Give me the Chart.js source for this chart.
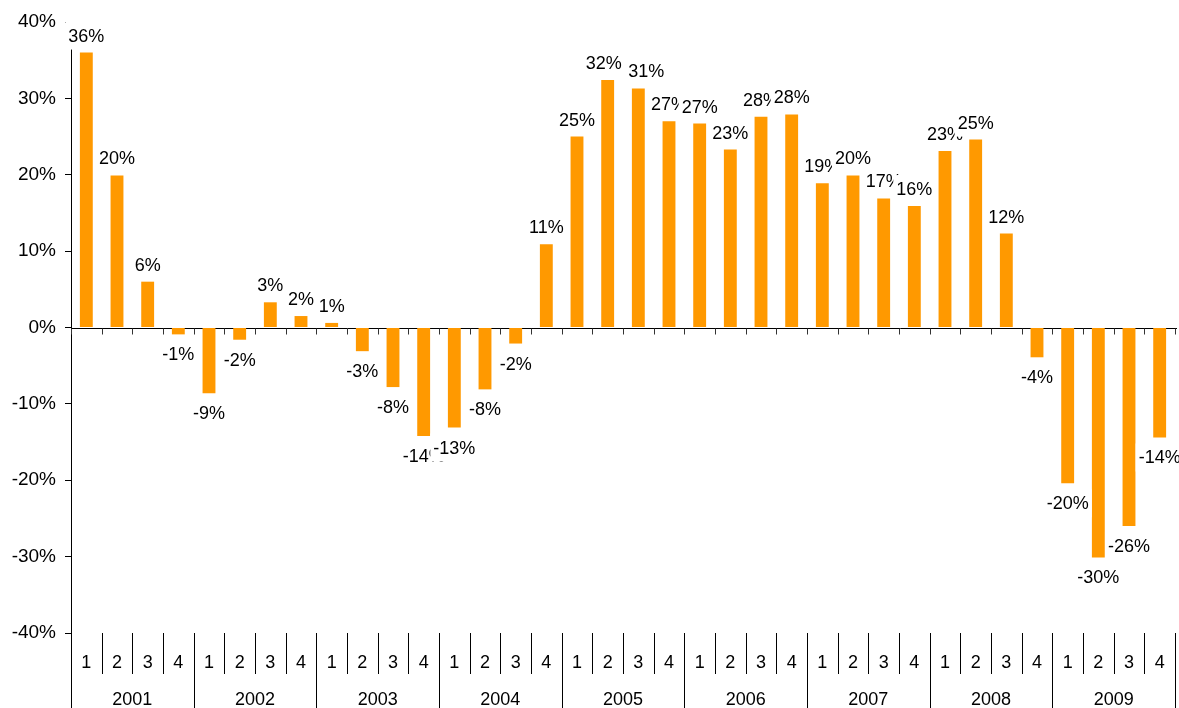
<!DOCTYPE html>
<html>
<head>
<meta charset="utf-8">
<script src="https://cdn.jsdelivr.net/npm/chart.js@4"></script>
<style>
  html, body { margin: 0; padding: 0; background: #fff; }
  #wrap { width: 1179px; height: 708px; position: relative; }
</style>
</head>
<body>
<div id="wrap"><canvas id="myChart"></canvas></div>
<script>
/* quarterly returns, 2001 - 2009 */
const YEARS = ['2001', '2002', '2003', '2004', '2005', '2006', '2007', '2008', '2009'];
const QUARTERS = ['1', '2', '3', '4'];
const RETURNS = [
    36.0, 19.9, 6.0, -0.9,      // 2001
    -8.6, -1.6, 3.3, 1.5,       // 2002
    0.6, -3.1, -7.8, -14.2,     // 2003
    -13.1, -8.1, -2.1, 10.9,    // 2004
    25.0, 32.4, 31.3, 27.0,     // 2005
    26.7, 23.3, 27.6, 27.9,     // 2006
    18.9, 19.9, 16.9, 15.9,     // 2007
    23.1, 24.6, 12.3, -3.9,     // 2008
    -20.4, -30.1, -26.0, -14.4  // 2009
];

const FONT = 'Arial, "Liberation Sans", sans-serif';
const ORANGE = '#FF9900';
// two labels were moved by hand in the original (2005 Q2 / Q3)
const LABEL_NUDGE = { 17: -4, 18: 8 };

const labels = [];
YEARS.forEach(y => QUARTERS.forEach(q => labels.push(y + ' Q' + q)));

// zero line, tick marks and the two level category axis
const axisPlugin = {
    id: 'twoLevelAxis',
    beforeDatasetsDraw(chart) {
        const ctx = chart.ctx;
        const x = chart.scales.x;
        const y = chart.scales.y;
        const area = chart.chartArea;
        const cw = x.getPixelForValue(1) - x.getPixelForValue(0);
        const zero = Math.round(y.getPixelForValue(0)) + 0.5;
        ctx.save();
        ctx.strokeStyle = '#000';
        ctx.lineWidth = 1;
        ctx.beginPath();
        ctx.moveTo(area.left, zero);
        ctx.lineTo(chart.width - 2, zero);
        ctx.stroke();
        ctx.strokeStyle = '#333';
        for (let i = 0; i <= labels.length; i++) {
            const bx = Math.round(x.getPixelForValue(0) - cw / 2 + i * cw) + 0.5;
            ctx.beginPath();
            ctx.moveTo(bx, zero);
            ctx.lineTo(bx, zero + 6);
            ctx.stroke();
        }
        ctx.restore();
    },
    afterDraw(chart) {
        const ctx = chart.ctx;
        const x = chart.scales.x;
        const area = chart.chartArea;
        const cw = x.getPixelForValue(1) - x.getPixelForValue(0);
        const bottom = chart.height;
        ctx.save();
        ctx.strokeStyle = '#000';
        ctx.lineWidth = 1;
        for (let i = 0; i <= labels.length; i++) {
            const bx = Math.round(x.getPixelForValue(0) - cw / 2 + i * cw) + 0.5;
            const isYear = i % 4 === 0;
            ctx.beginPath();
            ctx.moveTo(bx, area.bottom);
            ctx.lineTo(bx, isYear ? bottom : area.bottom + 41);
            ctx.stroke();
        }
        ctx.fillStyle = '#000';
        ctx.font = '18px ' + FONT;
        ctx.textAlign = 'center';
        ctx.textBaseline = 'middle';
        labels.forEach((l, i) => {
            ctx.fillText(QUARTERS[i % 4], x.getPixelForValue(i), area.bottom + 30);
        });
        YEARS.forEach((yr, j) => {
            const cx = (x.getPixelForValue(j * 4) + x.getPixelForValue(j * 4 + 3)) / 2;
            ctx.fillText(yr, cx, area.bottom + 67);
        });
        ctx.restore();
    }
};

// value labels with white boxes, drawn in order so later ones cover earlier ones
const labelPlugin = {
    id: 'valueLabels',
    afterDatasetsDraw(chart) {
        const ctx = chart.ctx;
        const meta = chart.getDatasetMeta(0);
        ctx.save();
        ctx.font = '18px ' + FONT;
        ctx.textAlign = 'center';
        ctx.textBaseline = 'middle';
        meta.data.forEach((bar, i) => {
            const v = RETURNS[i];
            const txt = Math.round(v) + '%';
            const w = ctx.measureText(txt).width;
            const cx = bar.x + (LABEL_NUDGE[i] || 0);
            const cy = v >= 0 ? bar.y - 17 : bar.y + 20;
            ctx.fillStyle = '#fff';
            ctx.fillRect(cx - w / 2 - 3, cy - 14, w + 6, 28);
            ctx.fillStyle = '#000';
            ctx.fillText(txt, cx, cy + 1);
        });
        ctx.restore();
    }
};

const ctx = document.getElementById('myChart');
const myChart = new Chart(ctx, {
    type: 'bar',
    data: {
        labels: labels,
        datasets: [{
            data: RETURNS,
            backgroundColor: ORANGE,
            borderWidth: 0,
            barPercentage: 0.42,
            categoryPercentage: 1.0
        }]
    },
    options: {
        animation: false,
        responsive: true,
        maintainAspectRatio: false,
        layout: {
            padding: { top: 22, right: 4, bottom: 75, left: 0 }
        },
        scales: {
            x: {
                display: false,
                offset: true
            },
            y: {
                min: -40,
                max: 40,
                afterFit: (scale) => { scale.width = 71; },
                ticks: {
                    stepSize: 10,
                    color: '#000',
                    padding: 9,
                    font: { family: FONT, size: 19 },
                    callback: (v) => v + '%'
                },
                grid: {
                    drawOnChartArea: false,
                    drawTicks: true,
                    tickLength: 6,
                    color: '#000'
                },
                border: {
                    display: true,
                    color: '#000',
                    width: 1
                }
            }
        },
        plugins: {
            legend: { display: false },
            tooltip: { enabled: false }
        }
    },
    plugins: [axisPlugin, labelPlugin]
});
</script>
</body>
</html>
